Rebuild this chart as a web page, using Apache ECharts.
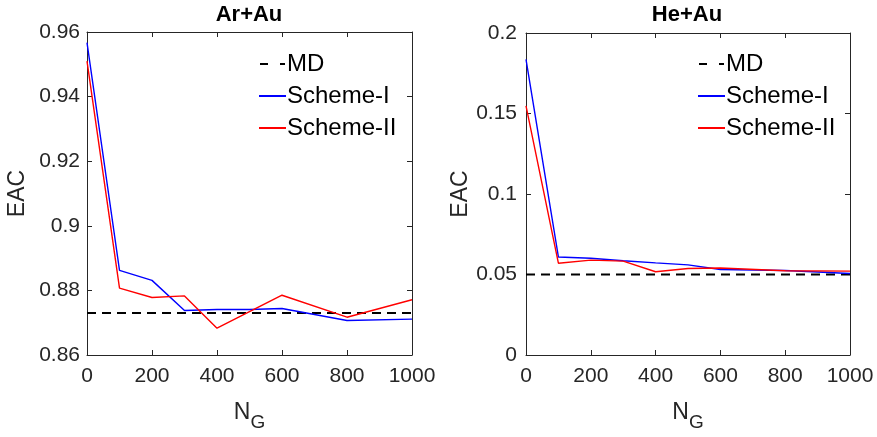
<!DOCTYPE html>
<html><head><meta charset="utf-8">
<script src="https://cdn.jsdelivr.net/npm/echarts@6/dist/echarts.min.js"></script>
<style>html,body{margin:0;padding:0;background:#fff}#c{width:877px;height:437px}</style>
</head><body><div id="c"></div>
<script>
const xVals = [0,100,200,300,400,500,600,800,1000];
const arScheme1 = [0.9567,0.8862,0.8831,0.8738,0.8741,0.8741,0.8744,0.8707,0.8711];
const arScheme2 = [0.951,0.8807,0.8778,0.8783,0.8683,0.8734,0.8785,0.8717,0.8771];
const arMD = 0.873;
const heScheme1 = [0.1836,0.0609,0.0601,0.0585,0.0572,0.0560,0.0531,0.0525,0.0506];
const heScheme2 = [0.1547,0.0570,0.0589,0.0583,0.0517,0.0537,0.0540,0.0523,0.0521];
const heMD = 0.05;
const titles = ['Ar+Au','He+Au'];
const legendNames = ['MD','Scheme-I','Scheme-II'];

const FONT = 'Liberation Sans, Arial, Helvetica, sans-serif';
const AX = '#262626';
const pair = a => xVals.map((x,i)=>[x,a[i]]);

const chart = echarts.init(document.getElementById('c'), null, {renderer:'canvas'});
const grids = [
  {left:87, right:465, top:32, bottom:81},
  {left:526, right:27, top:33, bottom:80}
];
const yRanges = [{min:0.86,max:0.96,interval:0.02,gap:58,margin:7},{min:0,max:0.2,interval:0.05,gap:48,margin:9}];

const xAxes=[], yAxes=[];
grids.forEach((g,i)=>{
  xAxes.push({gridIndex:i,type:'value',min:0,max:1000,interval:200,position:'bottom',
    name:'{n|N}{g|G}',nameLocation:'middle',nameGap:46,
    nameTextStyle:{rich:{
      n:{fontFamily:FONT,fontSize:23,color:AX,verticalAlign:'top',lineHeight:24},
      g:{fontFamily:FONT,fontSize:19,color:AX,verticalAlign:'top',lineHeight:20,padding:[12,0,0,0]}}},
    axisLine:{show:true,lineStyle:{color:AX,width:1}},
    axisTick:{show:true,inside:true,length:5,lineStyle:{color:AX}},
    axisLabel:{fontFamily:FONT,fontSize:21,color:AX,margin:11,formatter:v=>String(v)},
    splitLine:{show:false}});
  xAxes.push({gridIndex:i,type:'value',min:0,max:1000,interval:200,position:'top',
    axisLine:{show:true,onZero:false,lineStyle:{color:AX,width:1}},
    axisTick:{show:true,inside:true,length:5,lineStyle:{color:AX}},
    axisLabel:{show:false},splitLine:{show:false}});
  const r=yRanges[i];
  yAxes.push({gridIndex:i,type:'value',min:r.min,max:r.max,interval:r.interval,position:'left',
    name:'EAC',nameLocation:'middle',nameGap:r.gap,
    nameTextStyle:{fontFamily:FONT,fontSize:23,color:AX},
    axisLine:{show:true,lineStyle:{color:AX,width:1}},
    axisTick:{show:true,inside:true,length:5,lineStyle:{color:AX}},
    axisLabel:{fontFamily:FONT,fontSize:21,color:AX,margin:r.margin,
      formatter:v=>String(+v.toFixed(2))},
    splitLine:{show:false}});
  yAxes.push({gridIndex:i,type:'value',min:r.min,max:r.max,interval:r.interval,position:'right',
    axisLine:{show:true,onZero:false,lineStyle:{color:AX,width:1}},
    axisTick:{show:true,inside:true,length:5,lineStyle:{color:AX}},
    axisLabel:{show:false},splitLine:{show:false}});
});

function mdLine(v){ return [[0,v],[1000,v]]; }
const series=[];
const sets=[[arMD,arScheme1,arScheme2],[heMD,heScheme1,heScheme2]];
sets.forEach((s,i)=>{
  const xi=i*2, yi=i*2;
  series.push({name:legendNames[0],type:'line',xAxisIndex:xi,yAxisIndex:yi,data:mdLine(s[0]),symbol:'none',
    lineStyle:{color:'#000',width:2,type:[9,6]},itemStyle:{color:'#000'},z:2});
  series.push({name:legendNames[1],type:'line',xAxisIndex:xi,yAxisIndex:yi,data:pair(s[1]),symbol:'none',
    lineStyle:{color:'#0000ff',width:1.4},itemStyle:{color:'#0000ff'},z:3});
  series.push({name:legendNames[2],type:'line',xAxisIndex:xi,yAxisIndex:yi,data:pair(s[2]),symbol:'none',
    lineStyle:{color:'#ff0000',width:1.4},itemStyle:{color:'#ff0000'},z:4});
});

const legendIcons = ['path://M0,0h8v2h-8zM20,0h5v2h-5z','rect','rect'];
const legends=[259,698].map(l=>({left:l,top:52,orient:'vertical',itemWidth:27,itemHeight:2,itemGap:8,
  padding:0,
  textStyle:{fontFamily:FONT,fontSize:24,lineHeight:24,color:'#000',padding:[0,0,0,-4]},
  data:legendNames.map((n,k)=>({name:n,icon:legendIcons[k]})), selectedMode:false}));

chart.setOption({
  animation:false,
  title:titles.map((t,i)=>({text:t,left:i===0?249:687,textAlign:'center',top:4,padding:0,
    textStyle:{fontFamily:FONT,fontSize:22,fontWeight:'bold',color:'#000'}})),
  legend:legends,
  grid:grids,
  xAxis:xAxes,yAxis:yAxes,series:series
});
</script></body></html>
